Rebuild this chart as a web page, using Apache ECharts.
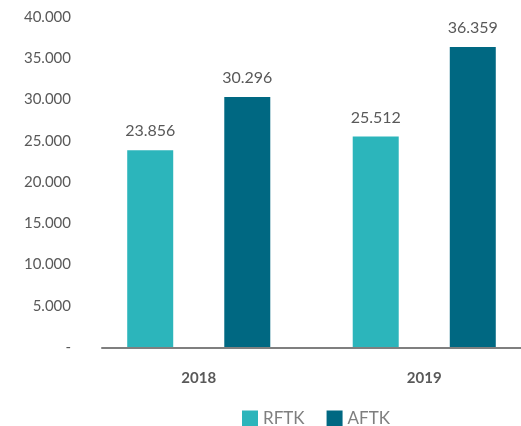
<!DOCTYPE html>
<html>
<head>
<meta charset="utf-8">
<script src="https://cdn.jsdelivr.net/npm/echarts@6/dist/echarts.min.js"></script>
<style>
  html, body { margin: 0; padding: 0; background: #ffffff; }
  #chart { width: 521px; height: 426px; }
</style>
</head>
<body>
<div id="chart"></div>
<script>
// Yearly totals per fleet type
const years = ['2018', '2019'];
const rftk = [23856, 25512];
const aftk = [30296, 36359];
const yTicks = [0, 5000, 10000, 15000, 20000, 25000, 30000, 35000, 40000];

// Dot as thousands separator; zero shown as a dash
function fmt(v) {
  if (v === 0) return '-';
  return String(Math.round(v)).replace(/\B(?=(\d{3})+(?!\d))/g, '.');
}

const chart = echarts.init(document.getElementById('chart'));
const labelStyle = {
  show: true,
  position: 'top',
  distance: 11,
  color: '#595959',
  fontFamily: 'Lato',
  fontSize: 16,
  formatter: p => fmt(p.value)
};

chart.setOption({
  animation: false,
  textStyle: { fontFamily: 'Lato' },
  grid: [
    { left: 86, width: 451, top: 17, bottom: 79, outerBoundsMode: 'none', containLabel: false },
    { left: 102, right: 0, top: 17, bottom: 78, outerBoundsMode: 'none', containLabel: false }
  ],
  legend: {
    data: ['RFTK', 'AFTK'],
    left: 237,
    top: 405,
    itemWidth: 16,
    itemHeight: 16,
    itemGap: 22,
    icon: 'rect',
    textStyle: { color: '#7f7f7f', fontSize: 17, fontFamily: 'Lato' }
  },
  xAxis: [
    {
      type: 'category',
      data: years,
      gridIndex: 0,
      axisLine: { show: false },
      axisTick: { show: false },
      axisLabel: {
        color: '#595959',
        fontWeight: 'bold',
        fontSize: 15,
        fontFamily: 'Lato',
        margin: 24
      }
    },
    {
      type: 'value',
      gridIndex: 1,
      min: 0,
      max: 1,
      axisLine: { show: true, lineStyle: { color: '#7f7f7f', width: 2 } },
      axisTick: { show: false },
      axisLabel: { show: false },
      splitLine: { show: false }
    }
  ],
  yAxis: [
    {
      type: 'value',
      gridIndex: 0,
      min: yTicks[0],
      max: yTicks[yTicks.length - 1],
      interval: yTicks[1] - yTicks[0],
      axisLine: { show: false },
      axisTick: { show: false },
      splitLine: { show: false },
      axisLabel: {
        color: '#595959',
        fontSize: 15,
        fontFamily: 'Lato',
        margin: 15,
        formatter: v => fmt(v)
      }
    },
    {
      type: 'value',
      gridIndex: 1,
      show: false
    }
  ],
  series: [
    {
      name: 'RFTK',
      type: 'bar',
      data: rftk,
      barWidth: 46,
      barGap: '111%',
      itemStyle: { color: '#2CB5BB' },
      label: labelStyle
    },
    {
      name: 'AFTK',
      type: 'bar',
      data: aftk,
      barWidth: 46,
      barGap: '111%',
      itemStyle: { color: '#006882' },
      label: labelStyle
    }
  ]
});
</script>
</body>
</html>
